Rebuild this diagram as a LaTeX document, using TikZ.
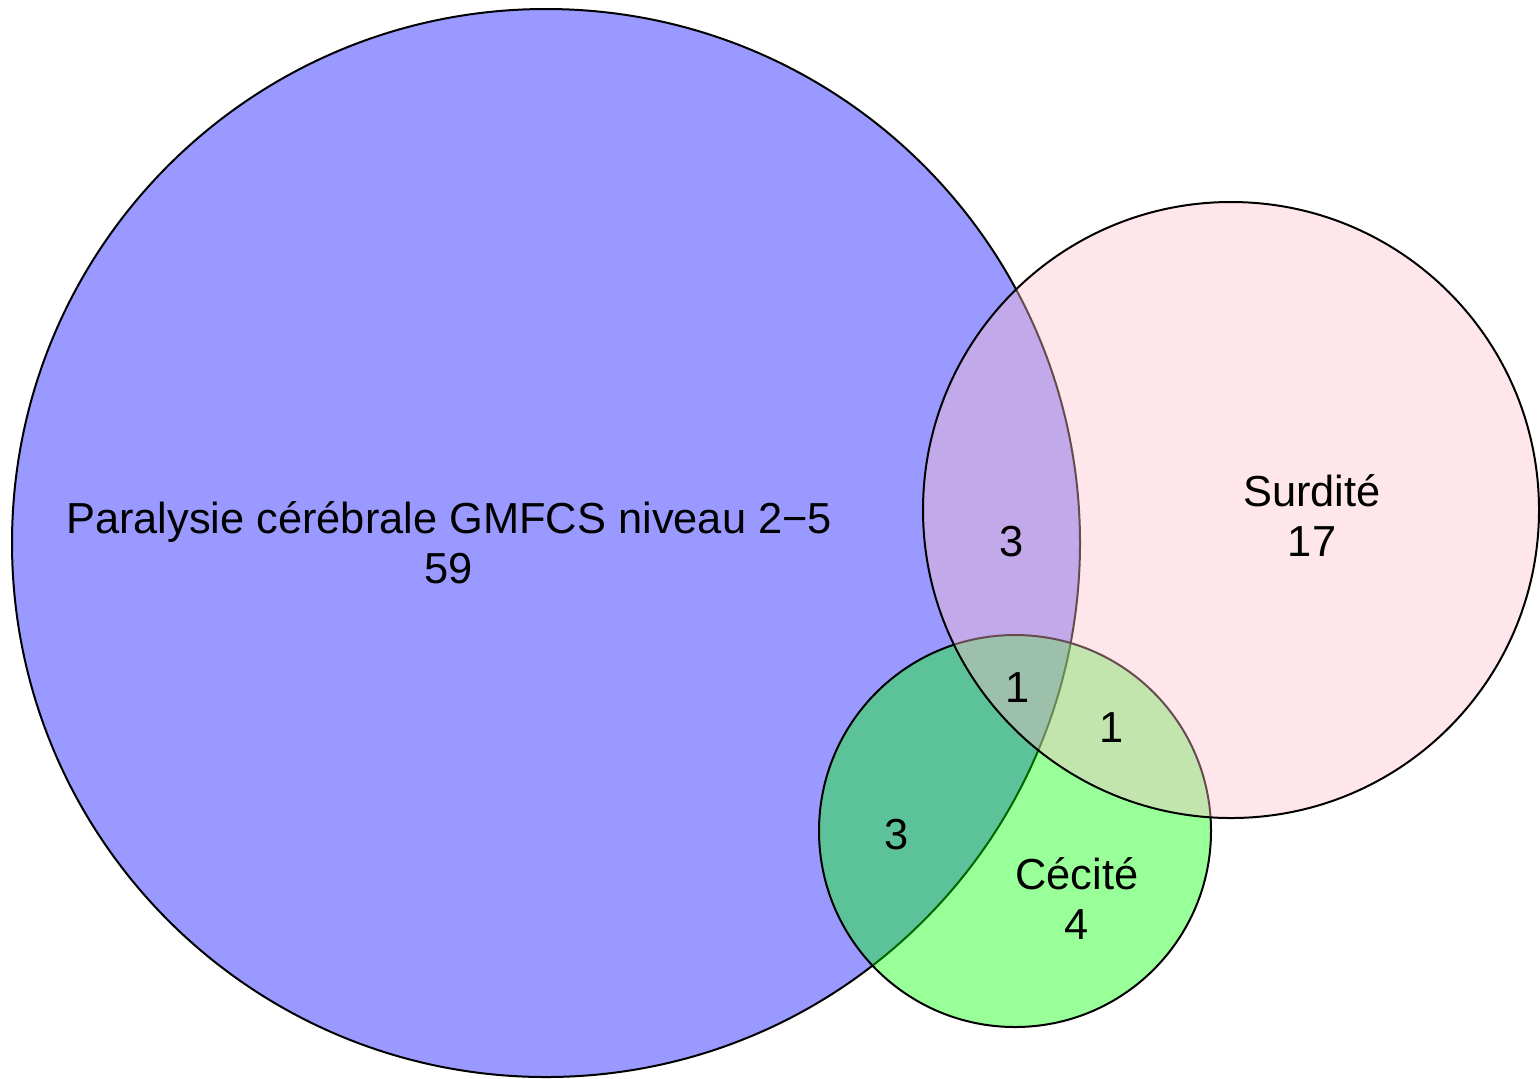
\documentclass[tikz,border=0pt]{standalone}
\usepackage{fontspec}
\setmainfont{Liberation Sans}
\usepackage{tikz}
\usepackage{xcolor}
\definecolor{pinkset}{RGB}{255,192,203}

\begin{document}
\begin{tikzpicture}[x=0.5pt,y=-0.5pt]%
  %[one unit = one pixel of the reference]
  \tikzstyle{vset}=[circle,draw=black,line width=1pt,inner sep=0,fill opacity=0.4]
  \tikzstyle{lbl}=[align=center,inner sep=0,font=\fontsize{21.7}{25}\selectfont]
  \useasboundingbox (0,0) rectangle (1540,1078);
  \node(palsy)[vset,fill=blue,minimum size=534pt] at (546,543) {};
  \node(blind)[vset,fill=green,minimum size=196pt] at (1015,831) {};
  \node(deaf)[vset,fill=pinkset,minimum size=308pt] at (1231,510) {};
  \node(palsylbl)[lbl] at (449,543) {Paralysie cérébrale GMFCS niveau 2−5\\59};
  \node(deaflbl)[lbl] at (1312,516) {Surdité\\17};
  \node(blindlbl)[lbl] at (1077,898) {Cécité\\4};
  \node(pd)[lbl] at (1012,542) {3};
  \node(pdb)[lbl] at (1018,688) {1};
  \node(db)[lbl] at (1112,728) {1};
  \node(pb)[lbl] at (897,835) {3};
\end{tikzpicture}
\end{document}
